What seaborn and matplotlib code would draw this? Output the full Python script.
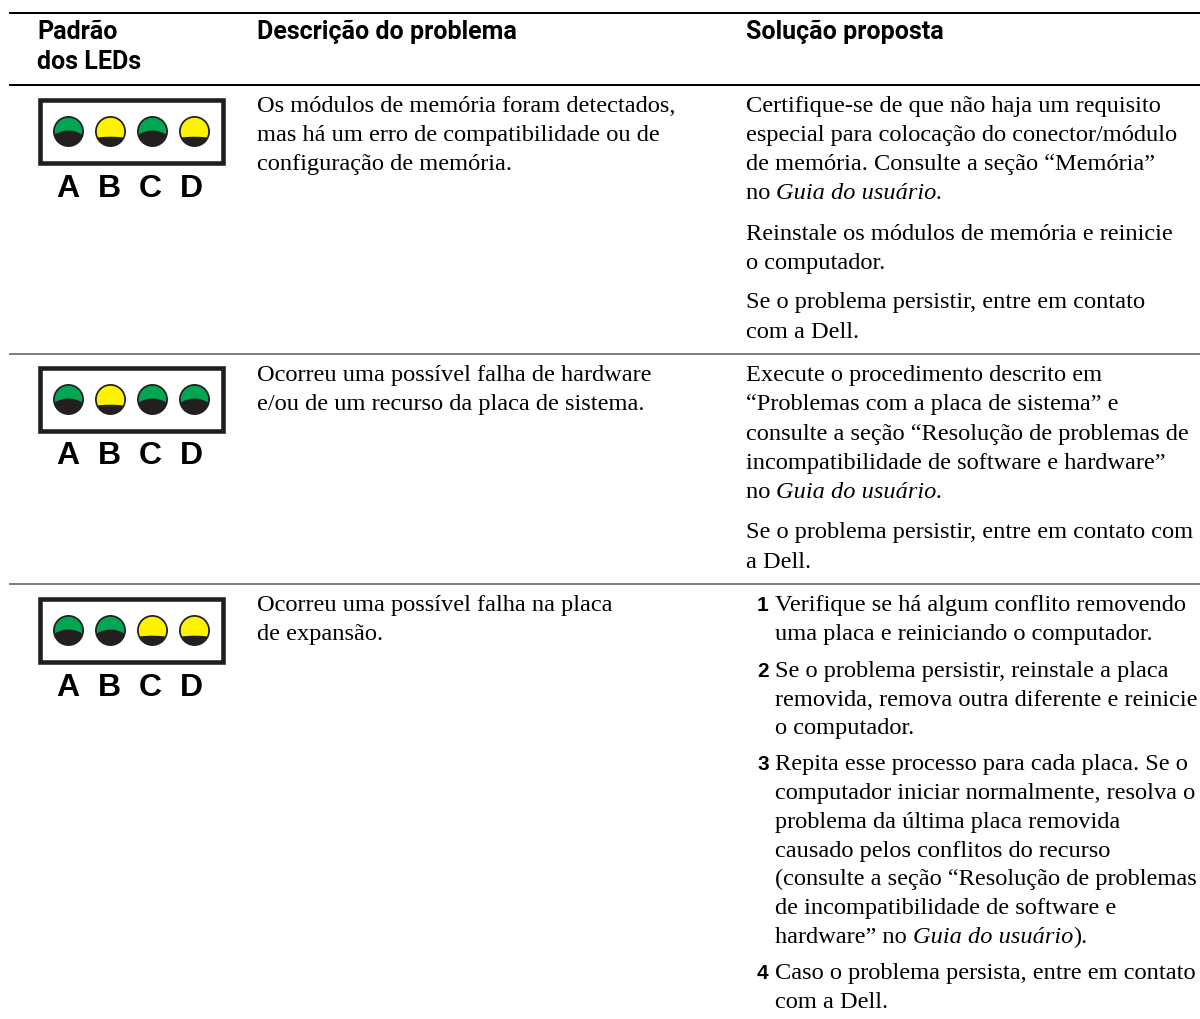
import numpy as np
import pandas as pd
import seaborn as sns
import matplotlib.pyplot as plt
from matplotlib.path import Path
from matplotlib.patches import Rectangle

# LED patterns per table row
led_letters = ['A', 'B', 'C', 'D']
led_row_1 = ['green', 'yellow', 'green', 'yellow']
led_row_2 = ['green', 'yellow', 'green', 'green']
led_row_3 = ['green', 'green', 'yellow', 'yellow']
led_rows = [led_row_1, led_row_2, led_row_3]

header_1 = ['Padrão', 'dos LEDs']
header_2 = 'Descrição do problema'
header_3 = 'Solução proposta'

# (baseline y, text); *...* means italic
col_desc = [
    (112, 'Os módulos de memória foram detectados,'),
    (141, 'mas há um erro de compatibilidade ou de'),
    (170, 'configuração de memória.'),
    (381, 'Ocorreu uma possível falha de hardware'),
    (410, 'e/ou de um recurso da placa de sistema.'),
    (611, 'Ocorreu uma possível falha na placa'),
    (640, 'de expansão.'),
]
col_sol = [
    (112, 'Certifique-se de que não haja um requisito'),
    (141, 'especial para colocação do conector/módulo'),
    (170, 'de memória. Consulte a seção “Memória”'),
    (199, 'no *Guia do usuário.*'),
    (240, 'Reinstale os módulos de memória e reinicie'),
    (269, 'o computador.'),
    (308, 'Se o problema persistir, entre em contato'),
    (338, 'com a Dell.'),
    (381, 'Execute o procedimento descrito em'),
    (410, '“Problemas com a placa de sistema” e'),
    (440, 'consulte a seção “Resolução de problemas de'),
    (469, 'incompatibilidade de software e hardware”'),
    (498, 'no *Guia do usuário.*'),
    (538, 'Se o problema persistir, entre em contato com'),
    (568, 'a Dell.'),
]
col_steps = [
    (611, 'Verifique se há algum conflito removendo'),
    (640, 'uma placa e reiniciando o computador.'),
    (677, 'Se o problema persistir, reinstale a placa'),
    (706, 'removida, remova outra diferente e reinicie'),
    (734, 'o computador.'),
    (770, 'Repita esse processo para cada placa. Se o'),
    (799, 'computador iniciar normalmente, resolva o'),
    (828, 'problema da última placa removida'),
    (857, 'causado pelos conflitos do recurso'),
    (885, '(consulte a seção “Resolução de problemas'),
    (914, 'de incompatibilidade de software e'),
    (943, 'hardware” no *Guia do usuário*).'),
    (979, 'Caso o problema persista, entre em contato'),
    (1008, 'com a Dell.'),
]
step_numbers = [(611, '1'), (677, '2'), (770, '3'), (979, '4')]

frame_tops = [98, 366, 597]
led_xs = [68, 110, 152, 194]
letter_xs = [68, 109, 150, 191]

DARK = '#231f20'
BODY = 17.6
sns.set_theme(style='white')
plt.rcParams['font.family'] = ['Liberation Serif', 'DejaVu Sans']

fig = plt.figure(figsize=(12, 10.19), dpi=100)
ax = fig.add_axes([0, 0, 1, 1])
ax.set_xlim(0, 1200)
ax.set_ylim(1019, 0)
ax.axis('off')


def cap_marker(start, hump=0.0):
    # top part of a disc, cut off at height start
    a0 = np.arcsin(start)
    t = np.linspace(a0, np.pi - a0, 50)
    xs = np.cos(t)
    ys = np.sin(t)
    cx = np.linspace(xs[-1], xs[0], 20)
    cy = start + hump * (1 - (cx / xs[0]) ** 2)
    v = np.vstack([np.c_[xs, ys], np.c_[cx, cy]])
    return Path(np.vstack([v, v[0]]), closed=True)


green_cap = cap_marker(-0.2, 0.27)
yellow_cap = cap_marker(-0.43, 0.05)

# table rules
ax.plot([9, 1200], [13, 13], color='black', lw=1.44, solid_capstyle='butt')
ax.plot([9, 1200], [85, 85], color='black', lw=1.44, solid_capstyle='butt')
ax.plot([9, 1200], [354, 354], color='#808080', lw=1.44, solid_capstyle='butt')
ax.plot([9, 1200], [584, 584], color='#808080', lw=1.44, solid_capstyle='butt')

# led panels
rows = []
for top, states in zip(frame_tops, led_rows):
    ax.add_patch(Rectangle((39.6, top + 2.3), 183.8, 62.4, fc='white', ec=DARK, lw=3.3))
    for x, st in zip(led_xs, states):
        rows.append({'x': x, 'y': top + 33, 'state': st})
    for x, letter in zip(letter_xs, led_letters):
        ax.text(x, top + 98.5, letter, family='Liberation Sans', weight='bold', fontsize=23,
                color='black', ha='center', va='baseline')
df = pd.DataFrame(rows)

sns.scatterplot(data=df, x='x', y='y', color=DARK, s=497, linewidth=0, ax=ax, legend=False, zorder=3)
sns.scatterplot(data=df[df.state == 'green'], x='x', y='y', color='#00a651', marker=green_cap,
                s=390, linewidth=0, ax=ax, legend=False, zorder=4)
sns.scatterplot(data=df[df.state == 'yellow'], x='x', y='y', color='#fff200', marker=yellow_cap,
                s=390, linewidth=0, ax=ax, legend=False, zorder=4)
ax.axis('off')
ax.set_xlim(0, 1200)
ax.set_ylim(1019, 0)

renderer = fig.canvas.get_renderer()


def draw_line(x, y, s):
    # text with *italic* runs placed one after another
    parts = s.split('*')
    for i, part in enumerate(parts):
        if not part:
            continue
        t = ax.text(x, y, part, fontsize=BODY, color='black', va='baseline', ha='left',
                    style='italic' if i % 2 else 'normal')
        x += t.get_window_extent(renderer).width


for y, s in col_desc:
    draw_line(257, y, s)
for y, s in col_sol:
    draw_line(746, y, s)
for y, s in col_steps:
    draw_line(775, y, s)
for y, s in step_numbers:
    ax.text(757, y, s, family='Liberation Sans', weight='bold', fontsize=15, color='black', va='baseline')

head = dict(family='Roboto', weight='bold', fontsize=18, color='black', va='baseline')
ax.text(37, 39, header_1[0], **head)
ax.text(37, 69, header_1[1], **head)
ax.text(257, 39, header_2, **head)
ax.text(746, 39, header_3, **head)

fig.savefig('out.png', dpi=100)
